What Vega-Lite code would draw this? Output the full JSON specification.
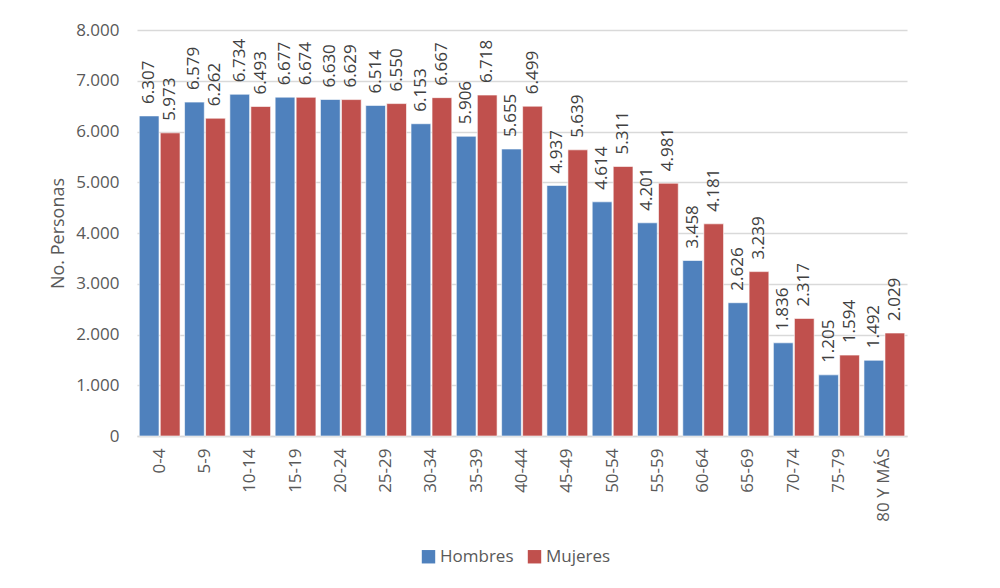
{
  "$schema": "https://vega.github.io/schema/vega-lite/v6.json",
  "autosize": {"type": "none"},
  "width": 770,
  "height": 406,
  "padding": {"left": 137, "top": 30, "right": 93, "bottom": 152},
  "background": "white",
  "config": {
    "locale": {"number": {"decimal": ",", "thousands": ".", "grouping": [3], "currency": ["$", ""]}},
    "font": "Open Sans",
    "view": {"stroke": null}
  },
  "data": {
    "values": [
      {"grupo": "0-4", "sexo": "Hombres", "personas": 6307},
      {"grupo": "0-4", "sexo": "Mujeres", "personas": 5973},
      {"grupo": "5-9", "sexo": "Hombres", "personas": 6579},
      {"grupo": "5-9", "sexo": "Mujeres", "personas": 6262},
      {"grupo": "10-14", "sexo": "Hombres", "personas": 6734},
      {"grupo": "10-14", "sexo": "Mujeres", "personas": 6493},
      {"grupo": "15-19", "sexo": "Hombres", "personas": 6677},
      {"grupo": "15-19", "sexo": "Mujeres", "personas": 6674},
      {"grupo": "20-24", "sexo": "Hombres", "personas": 6630},
      {"grupo": "20-24", "sexo": "Mujeres", "personas": 6629},
      {"grupo": "25-29", "sexo": "Hombres", "personas": 6514},
      {"grupo": "25-29", "sexo": "Mujeres", "personas": 6550},
      {"grupo": "30-34", "sexo": "Hombres", "personas": 6153},
      {"grupo": "30-34", "sexo": "Mujeres", "personas": 6667},
      {"grupo": "35-39", "sexo": "Hombres", "personas": 5906},
      {"grupo": "35-39", "sexo": "Mujeres", "personas": 6718},
      {"grupo": "40-44", "sexo": "Hombres", "personas": 5655},
      {"grupo": "40-44", "sexo": "Mujeres", "personas": 6499},
      {"grupo": "45-49", "sexo": "Hombres", "personas": 4937},
      {"grupo": "45-49", "sexo": "Mujeres", "personas": 5639},
      {"grupo": "50-54", "sexo": "Hombres", "personas": 4614},
      {"grupo": "50-54", "sexo": "Mujeres", "personas": 5311},
      {"grupo": "55-59", "sexo": "Hombres", "personas": 4201},
      {"grupo": "55-59", "sexo": "Mujeres", "personas": 4981},
      {"grupo": "60-64", "sexo": "Hombres", "personas": 3458},
      {"grupo": "60-64", "sexo": "Mujeres", "personas": 4181},
      {"grupo": "65-69", "sexo": "Hombres", "personas": 2626},
      {"grupo": "65-69", "sexo": "Mujeres", "personas": 3239},
      {"grupo": "70-74", "sexo": "Hombres", "personas": 1836},
      {"grupo": "70-74", "sexo": "Mujeres", "personas": 2317},
      {"grupo": "75-79", "sexo": "Hombres", "personas": 1205},
      {"grupo": "75-79", "sexo": "Mujeres", "personas": 1594},
      {"grupo": "80 Y MÁS", "sexo": "Hombres", "personas": 1492},
      {"grupo": "80 Y MÁS", "sexo": "Mujeres", "personas": 2029}
    ]
  },
  "encoding": {
    "x": {
      "field": "grupo", "type": "nominal", "sort": null,
      "scale": {"paddingInner": 0.1, "paddingOuter": 0.05},
      "axis": {
        "title": null, "labelAngle": 270, "labelAlign": "right", "labelBaseline": "middle",
        "labelPadding": 12, "labelFontSize": 17, "labelColor": "#595959",
        "ticks": false, "domainColor": "#d9d9d9", "domainWidth": 1.5
      }
    },
    "xOffset": {"field": "sexo", "type": "nominal", "scale": {"paddingInner": 0.06}},
    "y": {
      "field": "personas", "type": "quantitative",
      "scale": {"domain": [0, 8000], "nice": false},
      "axis": {
        "title": "No. Personas", "titleFontSize": 18, "titleFontWeight": "normal", "titleColor": "#595959",
        "titlePadding": 8, "values": [0, 1000, 2000, 3000, 4000, 5000, 6000, 7000, 8000],
        "format": ",d", "labelFontSize": 17, "labelColor": "#595959", "labelPadding": 18,
        "ticks": false, "domain": false, "gridColor": "#d9d9d9", "gridWidth": 1.5
      }
    }
  },
  "layer": [
    {
      "mark": {"type": "bar", "stroke": "white", "strokeWidth": 1, "strokeOpacity": 0.6},
      "encoding": {
        "color": {
          "field": "sexo", "type": "nominal",
          "scale": {"domain": ["Hombres", "Mujeres"], "range": ["#4F81BD", "#C0504D"]},
          "legend": {
            "title": null, "orient": "none", "direction": "horizontal",
            "legendX": 283, "legendY": 518, "symbolType": "square", "symbolSize": 180,
            "symbolStrokeWidth": 0, "labelFontSize": 17, "labelColor": "#595959",
            "columnPadding": 12, "labelOffset": 3
          }
        }
      }
    },
    {
      "mark": {"type": "text", "angle": 270, "align": "left", "baseline": "middle", "dx": 12, "fontSize": 17, "color": "#404040"},
      "encoding": {
        "text": {"field": "personas", "type": "quantitative", "format": ",d"}
      }
    }
  ]
}
